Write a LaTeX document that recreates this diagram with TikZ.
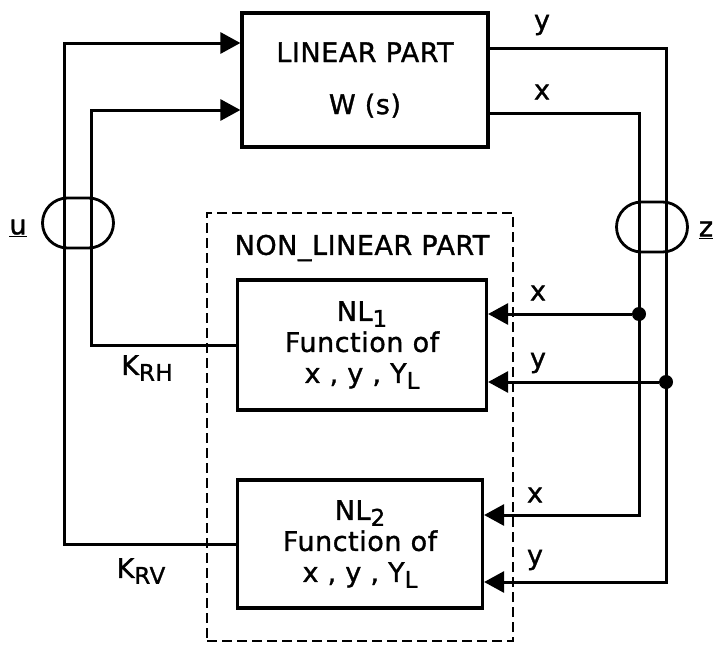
\documentclass[tikz,border=0pt]{standalone}
\usepackage{fontspec}
\setmainfont[LetterSpace=2, FakeBold=1.2]{DejaVu Sans}
\usetikzlibrary{arrows.meta, positioning, calc}
\newcommand{\lowsub}[1]{\raisebox{-0.4ex}{\fontsize{23}{23}\selectfont #1}}

\begin{document}
\begin{tikzpicture}[x=1pt, y=-1pt,
    blk/.style={rectangle, draw, line width=3.2pt, align=center, inner sep=0pt,
                font=\fontsize{27}{31}\selectfont},
    grp/.style={rectangle, draw, dash pattern=on 10pt off 5pt, line width=2.6pt, inner sep=0pt},
    oval/.style={rectangle, draw, line width=2.8pt, rounded corners=25pt,
                 minimum width=71pt, minimum height=50pt},
    lbl/.style={font=\fontsize{27}{31}\selectfont, inner sep=0pt},
    sig/.style={line width=3pt},
    arr/.style={sig, -{Triangle[length=20pt, width=21pt]}},
    dot/.style={circle, fill, inner sep=0pt, minimum size=14pt},
]
\useasboundingbox (0,0) rectangle (715,645);

% Linear part
\node[blk, minimum width=246pt, minimum height=134pt] (lin) at (365,80) {LINEAR PART\\[21pt]W (s)};

% Non-linear part
\node[grp, minimum width=306pt, minimum height=428pt] (nlgrp) at (360,427) {};
\node[lbl] (nltitle) at (362,248) {NON\_LINEAR PART};
\node[blk, minimum width=249pt, minimum height=130pt] (nl1) at (362,345)
    {NL\lowsub{1}\\Function of\\x , y , Y\lowsub{L}};
\node[blk, minimum width=245pt, minimum height=128pt] (nl2) at (360,544)
    {NL\lowsub{2}\\Function of\\x , y , Y\lowsub{L}};

% Ports and bus columns
\coordinate (linu1) at ([yshift=37pt]lin.west);
\coordinate (linu2) at ([yshift=-30pt]lin.west);
\coordinate (liny) at ([yshift=32pt]lin.east);
\coordinate (linx) at ([yshift=-33pt]lin.east);
\coordinate (nl1x) at ([yshift=31pt]nl1.east);
\coordinate (nl1y) at ([yshift=-37pt]nl1.east);
\coordinate (nl2x) at ([yshift=29pt]nl2.east);
\coordinate (nl2y) at ([yshift=-38pt]nl2.east);
\coordinate (ucol) at (64,0);
\coordinate (vcol) at (91,0);
\coordinate (xcol) at (639,0);
\coordinate (ycol) at (666,0);

% Feedback to linear part
\draw[arr] (nl2.west) -| (ucol |- linu1) -- (linu1);
\draw[arr] (nl1.west) -| (vcol |- linu2) -- (linu2);

% Outputs to non-linear part
\draw[arr] (liny) -| (ycol |- nl2y) -- (nl2y);
\draw[arr] (linx) -| (xcol |- nl2x) -- (nl2x);
\node[dot] (dx) at (xcol |- nl1x) {};
\node[dot] (dy) at (ycol |- nl1y) {};
\draw[arr] (dx) -- (nl1x);
\draw[arr] (dy) -- (nl1y);

% Bundles
\node[oval] (uov) at (78,223) {};
\node[oval] (zov) at (652,227) {};
\node[lbl] (ulbl) at (18,228) {\underline{u}};
\node[lbl] (zlbl) at (706,230) {\underline{z}};

% Signal labels
\node[lbl] (lbly) at (542,25) {y};
\node[lbl] (lblx) at (542,92) {x};
\node[lbl] (lblx1) at (538,293) {x};
\node[lbl] (lbly1) at (538,363) {y};
\node[lbl] (lblx2) at (535,495) {x};
\node[lbl] (lbly2) at (535,560) {y};
\node[lbl] (krh) at (147,368) {K\lowsub{RH}};
\node[lbl] (krv) at (141,571) {K\lowsub{RV}};
\end{tikzpicture}
\end{document}
